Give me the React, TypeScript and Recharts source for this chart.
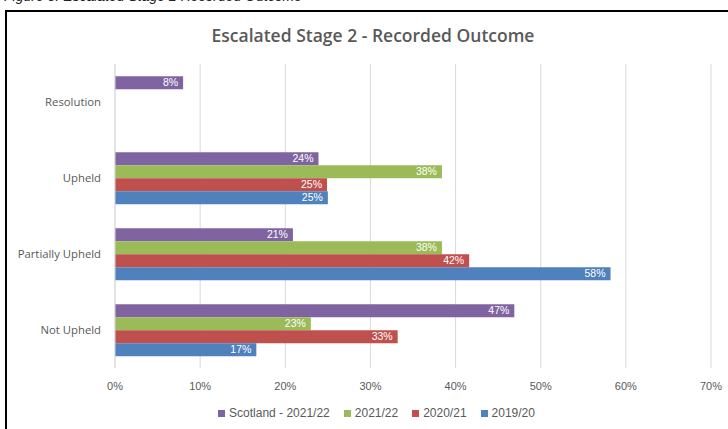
import React from 'react';
import { BarChart, Bar, XAxis, YAxis, CartesianGrid, LabelList } from 'recharts';

const categories = ['Resolution', 'Upheld', 'Partially Upheld', 'Not Upheld'];
const seriesNames = ['Scotland - 2021/22', '2021/22', '2020/21', '2019/20'];
const scotland2122 = [8, 23.9, 20.9, 46.9];
const y2122: (number | null)[] = [null, 38.4, 38.4, 23];
const y2021: (number | null)[] = [null, 24.9, 41.6, 33.2];
const y1920: (number | null)[] = [null, 25, 58.2, 16.6];
const xTicks = [0, 10, 20, 30, 40, 50, 60, 70];
const colors = ['#8064A2', '#9BBB59', '#C0504D', '#4F81BD'];
const keys = ['s', 'a', 'b', 'c'];

const data = categories.map((c, i) => ({
  cat: c,
  s: scotland2122[i],
  a: y2122[i],
  b: y2021[i],
  c: y1920[i],
}));

const sans = '"Liberation Sans", Arial, sans-serif';
const textGray = '#595959';

const fmt = (v: any) => (v === null || v === undefined || isNaN(Number(v)) ? '' : `${Math.round(Number(v))}%`);

export default function App() {
  return (
    <div style={{ position: 'absolute', left: 0, top: 0, width: 728, height: 429, overflow: 'hidden', background: '#fff' }}>
      <div
        style={{
          position: 'absolute',
          left: 4,
          top: -12,
          fontFamily: sans,
          fontStyle: 'italic',
          fontSize: 14,
          color: '#222',
          whiteSpace: 'nowrap',
        }}
      >
        Figure 3: Escalated Stage 2 Recorded Outcome
      </div>
      <div
        style={{
          position: 'absolute',
          left: 5,
          top: 10,
          width: 800,
          height: 500,
          borderLeft: '2px solid #000',
          borderTop: '2px solid #000',
        }}
      />
      <div
        style={{
          position: 'absolute',
          left: 0,
          width: 746,
          top: 22,
          lineHeight: '26px',
          textAlign: 'center',
          fontFamily: '"Open Sans", sans-serif',
          fontWeight: 600,
          fontSize: 17.5,
          color: textGray,
        }}
      >
        Escalated Stage 2 - Recorded Outcome
      </div>
      <div style={{ position: 'absolute', left: 0, top: 0 }}>
        <BarChart
          width={728}
          height={429}
          data={data}
          layout="vertical"
          margin={{ top: 64, right: 17, bottom: 31, left: 0 }}
          barCategoryGap="16%"
          barGap={0}
        >
          <CartesianGrid horizontal={false} vertical={true} stroke="#d9d9d9" />
          <XAxis
            type="number"
            domain={[0, 70]}
            ticks={xTicks}
            tickFormatter={(v) => `${v}%`}
            axisLine={false}
            tickLine={false}
            height={30}
            tick={{ fill: textGray, fontSize: 11, fontFamily: sans }}
            tickMargin={8}
          />
          <YAxis
            type="category"
            dataKey="cat"
            width={115}
            axisLine={{ stroke: '#d9d9d9' }}
            tickLine={false}
            tickMargin={8}
            tick={{ fill: textGray, fontSize: 11.3, fontFamily: '"Open Sans", sans-serif' }}
          />
          {keys.map((k, i) => (
            <Bar key={k} dataKey={k} name={seriesNames[i]} fill={colors[i]} isAnimationActive={false}>
              <LabelList
                dataKey={k}
                position="insideRight"
                formatter={fmt}
                fill="#ffffff"
                style={{ fontSize: 10.5, fontFamily: sans }}
              />
            </Bar>
          ))}
        </BarChart>
      </div>
      <div
        style={{
          position: 'absolute',
          left: 0,
          width: 753,
          top: 405,
          lineHeight: '16px',
          display: 'flex',
          justifyContent: 'center',
          gap: 14,
          fontFamily: sans,
          fontSize: 12,
          color: textGray,
        }}
      >
        {seriesNames.map((n, i) => (
          <div key={n} style={{ display: 'flex', alignItems: 'center' }}>
            <span style={{ display: 'inline-block', width: 7, height: 7, background: colors[i], marginRight: 4 }} />
            <span>{n}</span>
          </div>
        ))}
      </div>
    </div>
  );
}
